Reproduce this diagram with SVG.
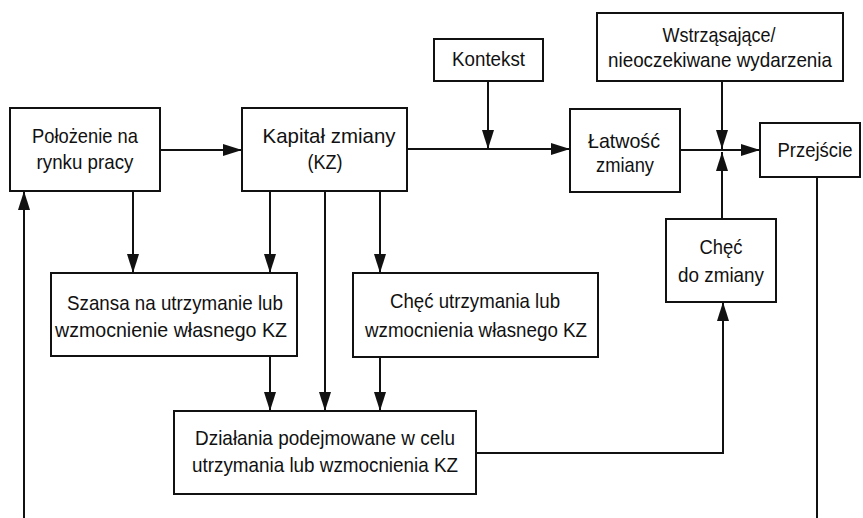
<svg xmlns="http://www.w3.org/2000/svg" width="863" height="518" viewBox="0 0 863 518">
  <style>
    .box { fill: #ffffff; stroke: #111111; stroke-width: 2; }
    .lbl { font-family: "Liberation Sans", Arial, sans-serif; font-size: 21px; fill: #111111; text-anchor: middle; }
    .edge { fill: none; stroke: #111111; stroke-width: 2; }
  </style>
  <defs>
    <marker id="arrow" markerUnits="userSpaceOnUse" markerWidth="19" markerHeight="12" refX="19" refY="6" orient="auto">
      <path d="M0,0 L19,6 L0,12 Z" fill="#111111"/>
    </marker>
  </defs>
  <rect width="863" height="518" fill="#ffffff"/>

  <g id="connectors">
    <path class="edge" d="M160,150 H242" marker-end="url(#arrow)"/>
    <path class="edge" d="M407,149 H570" marker-end="url(#arrow)"/>
    <path class="edge" d="M488,81 V149" marker-end="url(#arrow)"/>
    <path class="edge" d="M680,150 H760" marker-end="url(#arrow)"/>
    <path class="edge" d="M722,81 V149" marker-end="url(#arrow)"/>
    <path class="edge" d="M722,219 V152" marker-end="url(#arrow)"/>
    <path class="edge" d="M133,191 V273" marker-end="url(#arrow)"/>
    <path class="edge" d="M270,191 V273" marker-end="url(#arrow)"/>
    <path class="edge" d="M325,191 V411" marker-end="url(#arrow)"/>
    <path class="edge" d="M380,191 V273" marker-end="url(#arrow)"/>
    <path class="edge" d="M270,356 V411" marker-end="url(#arrow)"/>
    <path class="edge" d="M380,357 V411" marker-end="url(#arrow)"/>
    <path class="edge" d="M476,453 H723 V302" marker-end="url(#arrow)"/>
    <path class="edge" d="M817,177 V518"/>
    <path class="edge" d="M24,518 V191" marker-end="url(#arrow)"/>
  </g>

  <g id="polozenie">
    <rect class="box" x="10" y="108" width="150" height="83"/>
    <text class="lbl" x="85" y="143" textLength="106" lengthAdjust="spacingAndGlyphs">Położenie na</text>
    <text class="lbl" x="85" y="169" textLength="97" lengthAdjust="spacingAndGlyphs">rynku pracy</text>
  </g>

  <g id="kapital">
    <rect class="box" x="242" y="108" width="165" height="83"/>
    <text class="lbl" x="329" y="143" textLength="133" lengthAdjust="spacingAndGlyphs">Kapitał zmiany</text>
    <text class="lbl" x="325" y="169" textLength="35" lengthAdjust="spacingAndGlyphs">(KZ)</text>
  </g>

  <g id="kontekst">
    <rect class="box" x="434" y="39" width="109" height="42"/>
    <text class="lbl" x="488.5" y="66" textLength="73" lengthAdjust="spacingAndGlyphs">Kontekst</text>
  </g>

  <g id="wydarzenia">
    <rect class="box" x="597" y="13" width="246" height="68"/>
    <text class="lbl" x="719" y="42" textLength="113" lengthAdjust="spacingAndGlyphs">Wstrząsające/</text>
    <text class="lbl" x="720" y="67" textLength="224" lengthAdjust="spacingAndGlyphs">nieoczekiwane wydarzenia</text>
  </g>

  <g id="latwosc">
    <rect class="box" x="570" y="109" width="110" height="83"/>
    <text class="lbl" x="624" y="148" textLength="72" lengthAdjust="spacingAndGlyphs">Łatwość</text>
    <text class="lbl" x="625" y="172" textLength="58" lengthAdjust="spacingAndGlyphs">zmiany</text>
  </g>

  <g id="przejscie">
    <rect class="box" x="760" y="123" width="100" height="54"/>
    <text class="lbl" x="815" y="157" textLength="75" lengthAdjust="spacingAndGlyphs">Przejście</text>
  </g>

  <g id="chec-do-zmiany">
    <rect class="box" x="666" y="219" width="110" height="83"/>
    <text class="lbl" x="721" y="254" textLength="43" lengthAdjust="spacingAndGlyphs">Chęć</text>
    <text class="lbl" x="721" y="282" textLength="86" lengthAdjust="spacingAndGlyphs">do zmiany</text>
  </g>

  <g id="szansa">
    <rect class="box" x="51" y="273" width="246" height="83"/>
    <text class="lbl" x="175" y="310" textLength="216" lengthAdjust="spacingAndGlyphs">Szansa na utrzymanie lub</text>
    <text class="lbl" x="171" y="337" textLength="232" lengthAdjust="spacingAndGlyphs">wzmocnienie własnego KZ</text>
  </g>

  <g id="chec-utrzymania">
    <rect class="box" x="353" y="273" width="245" height="84"/>
    <text class="lbl" x="475" y="308" textLength="170" lengthAdjust="spacingAndGlyphs">Chęć utrzymania lub</text>
    <text class="lbl" x="476" y="337" textLength="222" lengthAdjust="spacingAndGlyphs">wzmocnienia własnego KZ</text>
  </g>

  <g id="dzialania">
    <rect class="box" x="174" y="411" width="302" height="83"/>
    <text class="lbl" x="325" y="445" textLength="260" lengthAdjust="spacingAndGlyphs">Działania podejmowane w celu</text>
    <text class="lbl" x="325" y="472" textLength="266" lengthAdjust="spacingAndGlyphs">utrzymania lub wzmocnienia KZ</text>
  </g>
</svg>
